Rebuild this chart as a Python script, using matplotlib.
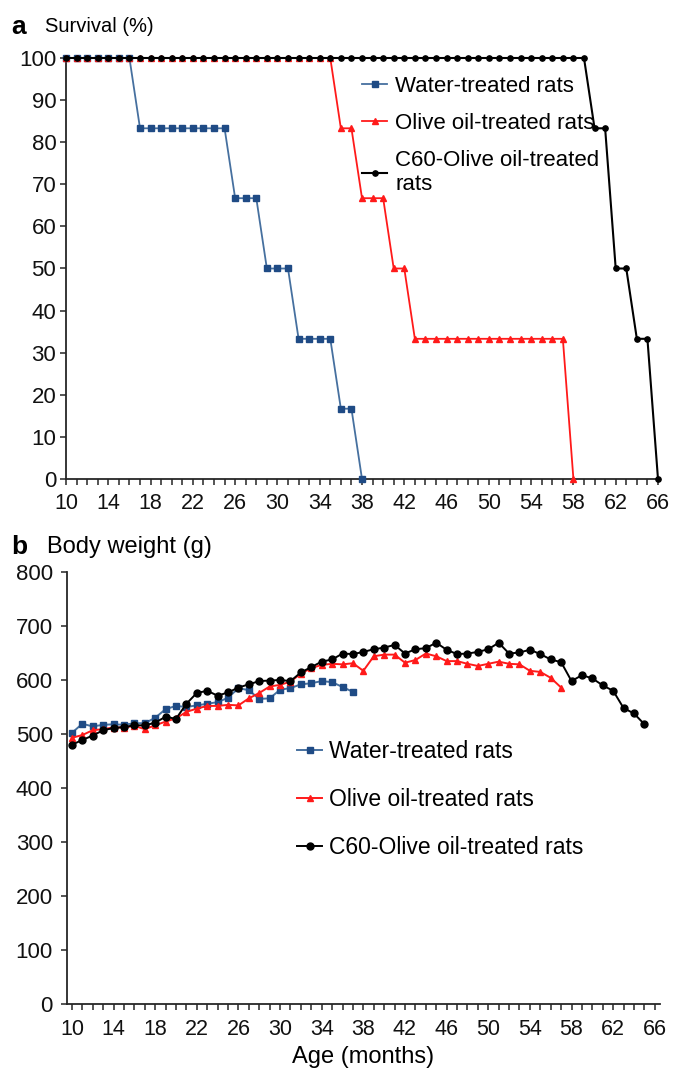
import matplotlib
matplotlib.use("Agg")
import matplotlib.pyplot as plt
from matplotlib.ticker import MultipleLocator

plt.rcParams["font.family"] = ["Liberation Sans", "DejaVu Sans"]

# --- panel a: survival (%) per month of age
water_months = list(range(10, 39))
water_surv = [100, 100, 100, 100, 100, 100, 100,
              83.3, 83.3, 83.3, 83.3, 83.3, 83.3, 83.3, 83.3, 83.3,
              66.7, 66.7, 66.7, 50, 50, 50, 33.3, 33.3, 33.3, 33.3,
              16.7, 16.7, 0]

olive_months = list(range(10, 59))
olive_surv = [100, 100, 100, 100, 100, 100, 100, 100, 100, 100,
              100, 100, 100, 100, 100, 100, 100, 100, 100, 100,
              100, 100, 100, 100, 100, 100,
              83.3, 83.3, 66.7, 66.7, 66.7, 50, 50,
              33.3, 33.3, 33.3, 33.3, 33.3, 33.3, 33.3, 33.3, 33.3, 33.3,
              33.3, 33.3, 33.3, 33.3, 33.3, 0]

c60_months = list(range(10, 67))
c60_surv = [100, 100, 100, 100, 100, 100, 100, 100, 100, 100,
            100, 100, 100, 100, 100, 100, 100, 100, 100, 100,
            100, 100, 100, 100, 100, 100, 100, 100, 100, 100,
            100, 100, 100, 100, 100, 100, 100, 100, 100, 100,
            100, 100, 100, 100, 100, 100, 100, 100, 100, 100,
            83.3, 83.3, 50, 50, 33.3, 33.3, 0]

# --- panel b: body weight (g)
water_w_months = list(range(10, 38))
water_w = [502, 519, 514, 517, 518, 517, 520, 520, 530, 546,
           552, 550, 553, 556, 559, 567, 585, 581, 565, 566,
           582, 585, 592, 594, 598, 596, 587, 578]

olive_w_months = list(range(10, 58))
olive_w = [493, 498, 507, 509, 512, 512, 515, 509, 516, 523,
           529, 541, 547, 552, 552, 554, 553, 566, 576, 588,
           591, 597, 612, 622, 628, 630, 629, 631, 617, 644,
           647, 647, 632, 637, 649, 644, 635, 635, 630, 626,
           630, 634, 630, 629, 617, 615, 604, 586]

c60_w_months = list(range(10, 66))
c60_w = [480, 489, 497, 507, 511, 513, 516, 516, 521, 532,
         528, 556, 576, 580, 571, 577, 586, 592, 598, 599,
         600, 598, 614, 624, 634, 638, 649, 648, 652, 657,
         660, 665, 649, 657, 659, 669, 656, 648, 649, 652,
         657, 669, 649, 651, 656, 648, 638, 633, 598, 609,
         603, 590, 580, 548, 538, 518]

labels = ["Water-treated rats", "Olive oil-treated rats", "C60-Olive oil-treated rats"]
xticks = list(range(10, 67, 4))

BLUE_LINE = "#46709f"
BLUE_MK = "#1f4b85"
RED = "#ff1a1a"
AXC = "#262626"


def style_axis(ax, ypad, xpad):
    for s in ["top", "right"]:
        ax.spines[s].set_visible(False)
    for s in ["left", "bottom"]:
        ax.spines[s].set_color(AXC)
        ax.spines[s].set_linewidth(1.3)
    ax.set_xticks(xticks)
    ax.xaxis.set_minor_locator(MultipleLocator(1))
    ax.tick_params(axis="both", which="both", direction="out", length=4,
                   width=1.1, color=AXC, labelcolor="#111111")
    ax.tick_params(axis="y", pad=ypad, labelsize=16)
    ax.tick_params(axis="x", pad=xpad, labelsize=15.5)


fig = plt.figure(figsize=(6.75, 10.74), dpi=100)

# panel a
ax1 = fig.add_axes([0.0978, 0.554, 0.877, 0.392])
ax1.plot(water_months, water_surv, color=BLUE_LINE, lw=1.3, marker="s", ms=4.5,
         mfc=BLUE_MK, mec=BLUE_MK, clip_on=False, zorder=3, label=labels[0])
ax1.plot(olive_months, olive_surv, color=RED, lw=1.3, marker="^", ms=4.5,
         mfc=RED, mec=RED, clip_on=False, zorder=3, label=labels[1])
ax1.plot(c60_months, c60_surv, color="black", lw=1.5, marker="o", ms=3.8,
         mfc="black", mec="black", clip_on=False, zorder=4,
         label="C60-Olive oil-treated\nrats")
ax1.set_xlim(10, 66)
ax1.set_ylim(0, 100)
ax1.set_yticks(range(0, 101, 10))
style_axis(ax1, ypad=3, xpad=6)
ax1.legend(loc="upper left", bbox_to_anchor=(0.536, 0.929), bbox_transform=fig.transFigure,
           frameon=False, fontsize=16, borderpad=0, borderaxespad=0,
           handlelength=1.15, handletextpad=0.35, labelspacing=0.72)

fig.text(0.016, 1 - 27 / 1074, "a", fontsize=19, fontweight="bold", va="center")
fig.text(0.066, 1 - 27 / 1074, "Survival (%)", fontsize=14.5, va="center")

# panel b
ax2 = fig.add_axes([0.0988, 0.0652, 0.879, 0.4022])
ax2.plot(water_w_months, water_w, color=BLUE_LINE, lw=1.4, marker="s", ms=5,
         mfc=BLUE_MK, mec=BLUE_MK, zorder=3, label=labels[0])
ax2.plot(olive_w_months, olive_w, color=RED, lw=1.4, marker="^", ms=5,
         mfc=RED, mec=RED, zorder=3, label=labels[1])
ax2.plot(c60_w_months, c60_w, color="black", lw=1.4, marker="o", ms=5,
         mfc="black", mec="black", zorder=4, label=labels[2])
ax2.set_xlim(9.5, 66.5)
ax2.set_ylim(0, 800)
ax2.set_yticks(range(0, 801, 100))
style_axis(ax2, ypad=6, xpad=7)
ax2.set_xlabel("Age (months)", fontsize=17, labelpad=4)
ax2.legend(loc="upper left", bbox_to_anchor=(0.44, 0.311), bbox_transform=fig.transFigure,
           frameon=False, fontsize=16.5, borderpad=0, borderaxespad=0,
           handlelength=1.1, handletextpad=0.3, labelspacing=1.1)

fig.text(0.016, 1 - 547 / 1074, "b", fontsize=19, fontweight="bold", va="center")
fig.text(0.069, 1 - 547 / 1074, "Body weight (g)", fontsize=17, va="center")

fig.savefig("out.png", dpi=100)
